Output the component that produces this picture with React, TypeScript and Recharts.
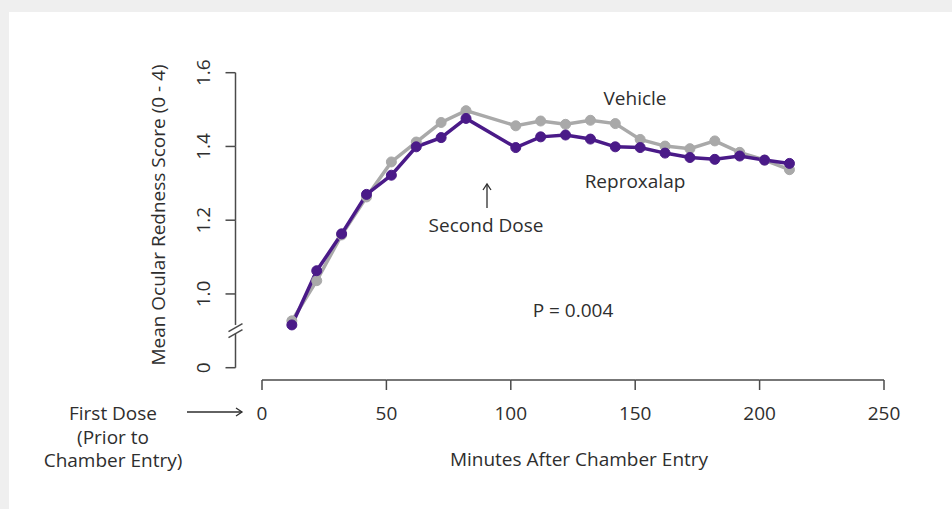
import React from "react";
import { LineChart, Line, XAxis, YAxis } from "recharts";

const minutes = [12, 22, 32, 42, 52, 62, 72, 82, 102, 112, 122, 132, 142, 152, 162, 172, 182, 192, 202, 212];
const reproxalap = [0.916, 1.063, 1.163, 1.27, 1.322, 1.399, 1.424, 1.476, 1.397, 1.426, 1.431, 1.42, 1.399, 1.397, 1.382, 1.37, 1.365, 1.374, 1.363, 1.354];
const vehicle = [0.927, 1.036, 1.16, 1.263, 1.358, 1.412, 1.465, 1.497, 1.456, 1.469, 1.46, 1.471, 1.462, 1.419, 1.401, 1.394, 1.415, 1.384, 1.363, 1.337];
const xTicks = [0, 50, 100, 150, 200, 250];
const yTicks = [0.8, 1.0, 1.2, 1.4, 1.6];
const firstDoseLines = ["First Dose", "(Prior to", "Chamber Entry)"];

const data = minutes.map((m, i) => ({ minute: m, reproxalap: reproxalap[i], vehicle: vehicle[i] }));

// plot geometry (page px)
const W = 952;
const H = 509;
const PLOT_LEFT = 262;
const PLOT_RIGHT = 884;
const PLOT_TOP = 72.7;
const PLOT_BOTTOM = 367.7;
const Y_AXIS_W = 60;
const X_AXIS_H = 30;
const STEP_X = (PLOT_RIGHT - PLOT_LEFT) / (xTicks.length - 1);
const STEP_Y = (PLOT_BOTTOM - PLOT_TOP) / (yTicks.length - 1);

const AXIS = "#4a4a4a";
const TEXT = "#2e2e2e";
const FONT = "'Open Sans', sans-serif";
const FS = 19;
const PURPLE = "#4a1a88";
const GRAY = "#a9a9a9";

const XTick = (props: any) => {
  const { x, y, payload, index } = props;
  const ay = y + 12.3;
  const last = index === xTicks.length - 1;
  return (
    <g>
      {!last && <line x1={x} y1={ay} x2={x + STEP_X} y2={ay} stroke={AXIS} strokeWidth={1.5} />}
      <line x1={x} y1={ay} x2={x} y2={ay + 10} stroke={AXIS} strokeWidth={1.5} />
      <text x={x} y={ay + 33} textAnchor="middle" dominantBaseline="central" fill={TEXT} fontFamily={FONT} fontSize={FS}>
        {payload.value}
      </text>
    </g>
  );
};

const YTick = (props: any) => {
  const { x, y, payload } = props;
  const ax = x - 26.5;
  const v = payload.value;
  const label = v === 0.8 ? "0" : v.toFixed(1);
  return (
    <g>
      <line x1={ax - 10} y1={y} x2={ax} y2={y} stroke={AXIS} strokeWidth={1.5} />
      {v > 0.8 && v < 1.6 && <line x1={ax} y1={y} x2={ax} y2={y - STEP_Y} stroke={AXIS} strokeWidth={1.5} />}
      {v === 1.0 && <line x1={ax} y1={y} x2={ax} y2={y + 31} stroke={AXIS} strokeWidth={1.5} />}
      {v === 0.8 && (
        <g stroke={AXIS} strokeWidth={1.5}>
          <line x1={ax} y1={y} x2={ax} y2={y - 34} />
          <line x1={ax - 7} y1={y - 36} x2={ax + 7} y2={y - 44} />
          <line x1={ax - 7} y1={y - 30} x2={ax + 7} y2={y - 38} />
        </g>
      )}
      <text
        x={ax - 32}
        y={y}
        transform={`rotate(-90, ${ax - 32}, ${y})`}
        textAnchor="middle"
        dominantBaseline="central"
        fill={TEXT}
        fontFamily={FONT}
        fontSize={FS}
      >
        {label}
      </text>
    </g>
  );
};

const txt = { fill: TEXT, fontFamily: FONT, fontSize: FS };

export default function App() {
  return (
    <div style={{ position: "relative", width: W, height: H, background: "#efefef", overflow: "hidden" }}>
      <style>{`body{margin:0}`}</style>
      <div style={{ position: "absolute", left: 9, top: 12, right: 0, bottom: 0, background: "#fff" }} />
      <div style={{ position: "absolute", left: 0, top: 0 }}>
        <LineChart
          width={W}
          height={H}
          data={data}
          margin={{ top: PLOT_TOP, right: W - PLOT_RIGHT, left: PLOT_LEFT - Y_AXIS_W, bottom: H - PLOT_BOTTOM - X_AXIS_H }}
        >
          <XAxis
            dataKey="minute"
            type="number"
            domain={[0, 250]}
            ticks={xTicks}
            height={X_AXIS_H}
            axisLine={false}
            tickLine={false}
            tickSize={0}
            tickMargin={0}
            tick={<XTick />}
            interval={0}
          />
          <YAxis
            type="number"
            domain={[0.8, 1.6]}
            ticks={yTicks}
            width={Y_AXIS_W}
            axisLine={false}
            tickLine={false}
            tickSize={0}
            tickMargin={0}
            tick={<YTick />}
            interval={0}
          />
          <Line
            dataKey="vehicle"
            stroke={GRAY}
            strokeWidth={3.5}
            dot={{ r: 5, fill: GRAY, stroke: GRAY, strokeWidth: 1 }}
            isAnimationActive={false}
          />
          <Line
            dataKey="reproxalap"
            stroke={PURPLE}
            strokeWidth={3.5}
            dot={{ r: 5, fill: PURPLE, stroke: PURPLE, strokeWidth: 1 }}
            isAnimationActive={false}
          />
        </LineChart>
      </div>
      <svg width={W} height={H} style={{ position: "absolute", left: 0, top: 0, pointerEvents: "none" }}>
        <text x={158} y={215} transform="rotate(-90, 158, 215)" textAnchor="middle" dominantBaseline="central" {...txt}>
          Mean Ocular Redness Score (0 - 4)
        </text>
        <text x={579} y={459} textAnchor="middle" dominantBaseline="central" {...txt}>
          Minutes After Chamber Entry
        </text>
        <text x={113} y={413} textAnchor="middle" dominantBaseline="central" {...txt}>
          {firstDoseLines.map((s, i) => (
            <tspan key={s} x={113} dy={i === 0 ? 0 : 23.5}>
              {s}
            </tspan>
          ))}
        </text>
        <g stroke={TEXT} strokeWidth={1.3} fill="none">
          <line x1={187} y1={412} x2={242} y2={412} />
          <polyline points="236,408 242,412 236,416" />
          <line x1={487} y1={184} x2={487} y2={208} />
          <polyline points="483,190 487,184 491,190" />
        </g>
        <text x={486} y={225} textAnchor="middle" dominantBaseline="central" {...txt}>Second Dose</text>
        <text x={573} y={310} textAnchor="middle" dominantBaseline="central" {...txt}>P = 0.004</text>
        <text x={635} y={98} textAnchor="middle" dominantBaseline="central" {...txt}>Vehicle</text>
        <text x={635} y={181} textAnchor="middle" dominantBaseline="central" {...txt}>Reproxalap</text>
      </svg>
    </div>
  );
}
